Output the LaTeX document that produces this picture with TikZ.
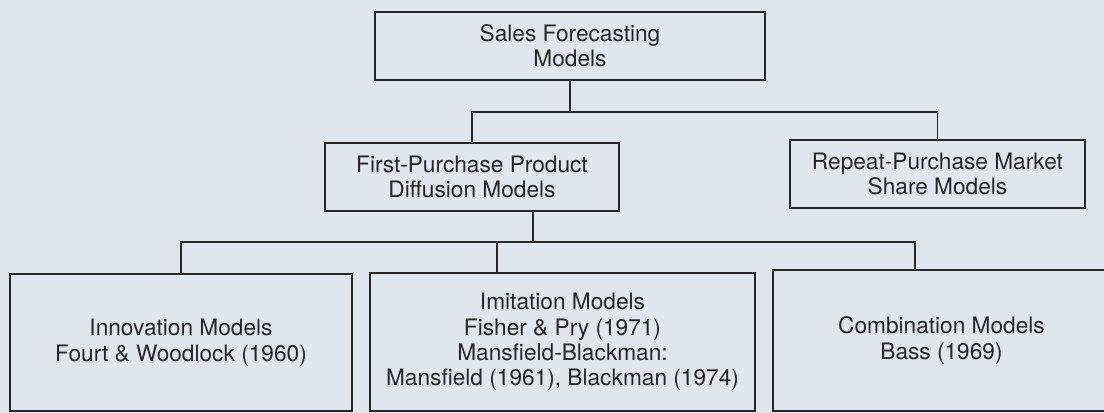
\documentclass[tikz,border=0pt]{standalone}
\usepackage{fontspec}
\setmainfont{TeX Gyre Heros}
\usetikzlibrary{calc}

\definecolor{paper}{RGB}{224,229,238}
\definecolor{ink}{RGB}{38,38,40}

\tikzset{
  box/.style={draw=ink, line width=1.1pt, align=center, inner sep=0pt, text=ink,
    font=\fontsize{17}{19}\selectfont},
  link/.style={draw=ink, line width=1.1pt}
}

\begin{document}
\begin{tikzpicture}[x=0.75pt,y=0.75pt,yscale=-1,xscale=1]

\fill [paper] (0,0) rectangle (1104,413);
\useasboundingbox (0,0) rectangle (1104,413);
\clip (0,0) rectangle (1104,413);

% boxes
\node [box, minimum width=292.5pt, minimum height=51pt] (top) at (570,46) {Sales Forecasting\\Models};
\node [box, minimum width=220.5pt, minimum height=51pt] (fp) at (472,177) {First-Purchase Product\\Diffusion Models};
\node [box, minimum width=221.25pt, minimum height=51pt] (rep) at (937.5,174) {Repeat-Purchase Market\\Share Models};
\node [box, minimum width=256.5pt, minimum height=102.75pt] (inno) at (181,342.5) {Innovation Models\\Fourt \& Woodlock (1960)};
\node [box, minimum width=288.75pt, minimum height=103.5pt] (imi) at (562.5,342) {Imitation Models\\Fisher \& Pry (1971)\\Mansfield-Blackman:\\Mansfield (1961), Blackman (1974)};
\node [box, minimum width=252.75pt, minimum height=105.75pt] (comb) at (941.5,340.5) {Combination Models\\Bass (1969)};

% connectors
\coordinate (busA) at (571,112);
\coordinate (busB) at (533,242);
\coordinate (fpout) at ($(fp.south)+(61,0)$);
\coordinate (imiin) at ($(imi.north)+(-65.5,0)$);
\coordinate (combin) at ($(comb.north)+(-26.5,0)$);

\draw [link] (top.south) -- (top.south |- busA);
\draw [link] (fp.north) |- (busA) -| (rep.north);
\draw [link] (fpout) -- (fpout |- busB);
\draw [link] (inno.north) |- (combin |- busB) -- (combin);
\draw [link] (imiin |- busB) -- (imiin);

\end{tikzpicture}
\end{document}
